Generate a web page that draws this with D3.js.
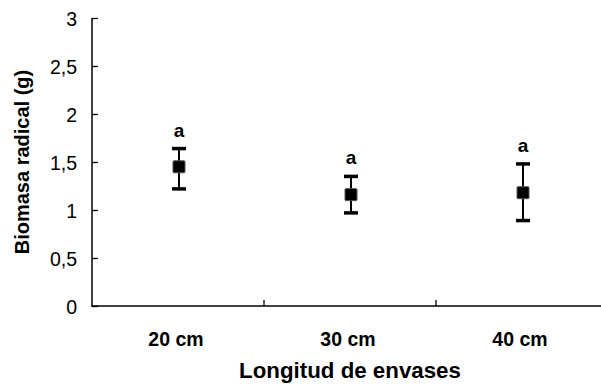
<!DOCTYPE html>
<html><head><meta charset="utf-8">
<script src="https://cdn.jsdelivr.net/npm/d3@7"></script>
<style>body{margin:0;background:#fff}svg{display:block}</style>
</head><body>
<script>
const categories = ["20 cm", "30 cm", "40 cm"];
const means = [1.45, 1.16, 1.18];
const errLow = [1.22, 0.97, 0.89];
const errHigh = [1.64, 1.35, 1.48];
const letters = ["a", "a", "a"];
const yTicks = [0, 0.5, 1, 1.5, 2, 2.5, 3];
const yTickLabels = ["0", "0,5", "1", "1,5", "2", "2,5", "3"];

const W = 601, H = 389;
const svg = d3.select("body").append("svg").attr("width", W).attr("height", H);
const font = "Arial, 'Liberation Sans', sans-serif";

const x = d3.scaleBand().domain(categories).range([92, 608]);
const y = d3.scaleLinear().domain([0, 3]).range([306, 18]);

// y axis
const yAxis = d3.axisLeft(y).tickValues(yTicks).tickSize(-6).tickPadding(15)
  .tickFormat((d, i) => yTickLabels[i]);
const gy = svg.append("g").attr("transform", "translate(92,0)").call(yAxis);
gy.select(".domain").attr("stroke", "#000").attr("stroke-width", 1.5).attr("d", "M0,18V306");
gy.selectAll(".tick line").attr("stroke", "#000").attr("stroke-width", 1.3);
gy.selectAll(".tick text").attr("font-family", font).attr("font-size", 19.5).attr("fill", "#000")
  .attr("dy", "0.36em");

// x axis
const gx = svg.append("g").attr("transform", "translate(0,306)");
gx.append("line").attr("x1", 91).attr("x2", 601).attr("y1", 0).attr("y2", 0)
  .attr("stroke", "#000").attr("stroke-width", 1.5);
const xTickPos = categories.slice(1).map(c => x(c));
gx.selectAll("line.tk").data(xTickPos).join("line").attr("class", "tk")
  .attr("x1", d => d).attr("x2", d => d).attr("y1", 0).attr("y2", -6)
  .attr("stroke", "#000").attr("stroke-width", 1.3);
gx.selectAll("text.cat").data(categories).join("text").attr("class", "cat")
  .attr("x", d => x(d) + x.bandwidth() / 2 - 2).attr("y", 40)
  .attr("text-anchor", "middle").attr("font-family", font).attr("font-weight", "bold")
  .attr("font-size", 19.5).text(d => d);

// titles
svg.append("text").attr("x", 350).attr("y", 378).attr("text-anchor", "middle")
  .attr("font-family", font).attr("font-weight", "bold").attr("font-size", 22.3)
  .text("Longitud de envases");
svg.append("text").attr("transform", "translate(29,162) rotate(-90)").attr("text-anchor", "middle")
  .attr("font-family", font).attr("font-weight", "bold").attr("font-size", 20)
  .text("Biomasa radical (g)");

// points with error bars
const g = svg.append("g");
const data = categories.map((c, i) => ({c, m: means[i], lo: errLow[i], hi: errHigh[i], l: letters[i]}));
const cx = d => x(d.c) + x.bandwidth() / 2 + 1;
g.selectAll("line.stem").data(data).join("line").attr("class", "stem")
  .attr("x1", cx).attr("x2", cx).attr("y1", d => y(d.lo)).attr("y2", d => y(d.hi))
  .attr("stroke", "#000").attr("stroke-width", 2);
["lo", "hi"].forEach(k => {
  g.selectAll("line.cap" + k).data(data).join("line").attr("class", "cap" + k)
    .attr("x1", d => cx(d) - 7).attr("x2", d => cx(d) + 7)
    .attr("y1", d => y(d[k])).attr("y2", d => y(d[k]))
    .attr("stroke", "#000").attr("stroke-width", 3.5);
});
g.selectAll("rect.pt").data(data).join("rect").attr("class", "pt")
  .attr("x", d => cx(d) - 6).attr("y", d => y(d.m) - 6).attr("width", 12).attr("height", 12)
  .attr("rx", 1).attr("fill", "#000").attr("stroke", "#555").attr("stroke-width", 1);
g.selectAll("text.let").data(data).join("text").attr("class", "let")
  .attr("x", cx).attr("y", d => y(d.hi) - 12).attr("text-anchor", "middle")
  .attr("font-family", font).attr("font-weight", "bold").attr("font-size", 19).text(d => d.l);
</script>
</body></html>
